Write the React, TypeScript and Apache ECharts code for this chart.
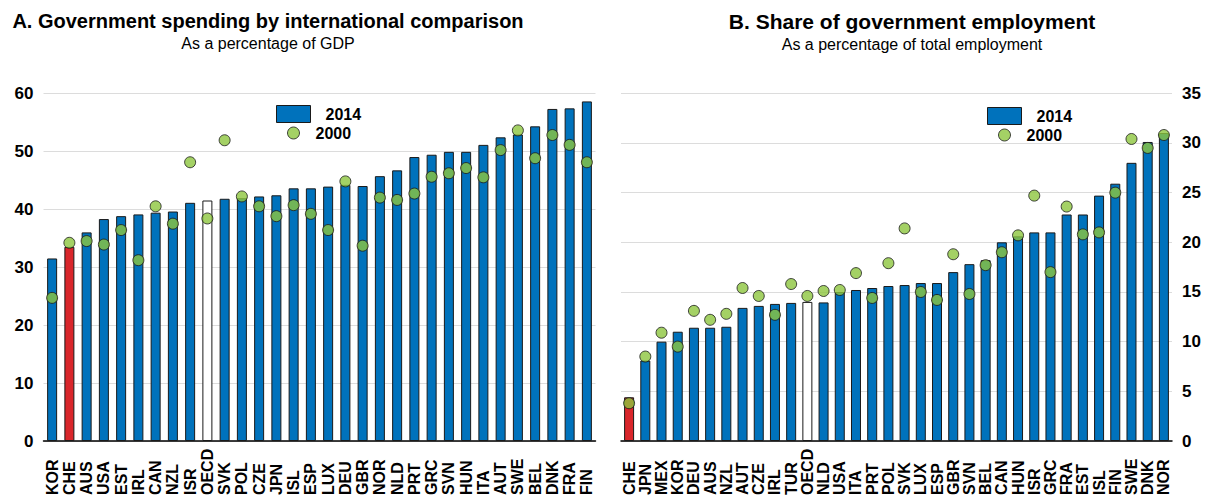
import React, { useEffect, useRef } from "react";
import * as echarts from "echarts";

const spendCountries = ["KOR","CHE","AUS","USA","EST","IRL","CAN","NZL","ISR","OECD","SVK","POL","CZE","JPN","ISL","ESP","LUX","DEU","GBR","NOR","NLD","PRT","GRC","SVN","HUN","ITA","AUT","SWE","BEL","DNK","FRA","FIN"];
const spend2014 = [31.5,33.5,36.0,38.3,38.8,39.1,39.4,39.6,41.1,41.5,41.8,41.9,42.2,42.4,43.6,43.6,43.9,44.2,44.0,45.7,46.7,49.0,49.4,49.9,49.9,51.1,52.4,52.9,54.3,57.3,57.4,58.6];
const spend2000 = [24.7,34.2,34.5,33.9,36.4,31.2,40.5,37.5,48.1,38.4,51.9,42.2,40.5,38.8,40.7,39.2,36.4,44.8,33.7,42.0,41.6,42.7,45.6,46.2,47.1,45.5,50.2,53.6,48.8,52.8,51.1,48.1];

const empCountries = ["CHE","JPN","MEX","KOR","DEU","AUS","NZL","AUT","CZE","IRL","TUR","OECD","NLD","USA","ITA","PRT","POL","SVK","LUX","ESP","GBR","SVN","BEL","CAN","HUN","ISR","GRC","FRA","EST","ISL","FIN","SWE","DNK","NOR"];
const emp2014 = [4.4,8.1,10.0,11.0,11.4,11.4,11.5,13.4,13.6,13.8,13.9,14.0,13.95,15.0,15.2,15.4,15.6,15.7,15.9,15.9,17.0,17.8,18.2,20.0,20.6,21.0,21.0,22.8,22.8,24.7,25.9,28.0,30.1,31.0];
const emp2000 = [3.8,8.5,10.9,9.5,13.1,12.2,12.8,15.4,14.6,12.7,15.8,14.6,15.1,15.2,16.9,14.4,17.9,21.4,15.0,14.2,18.8,14.8,17.7,19.0,20.7,24.7,17.0,23.6,20.8,21.0,25.0,30.4,29.5,30.8];

const spendTicks = { min: 0, max: 60, interval: 10 };
const empTicks = { min: 0, max: 35, interval: 5 };

const BLUE = "#0072BC";
const RED = "#D9262B";
const GREEN = "#8DC63F";
const EDGE = "#1a1a1a";
const FONT = "Arial, 'Liberation Sans', sans-serif";

function barData(cats: string[], vals: number[]) {
  return vals.map((v, i) => {
    if (cats[i] === "CHE") return { value: v, itemStyle: { color: RED } };
    if (cats[i] === "OECD") return { value: v, itemStyle: { color: "#ffffff" } };
    return v;
  });
}

export default function App() {
  const ref = useRef<HTMLDivElement>(null);
  useEffect(() => {
    if (!ref.current) return;
    const chart = echarts.init(ref.current, undefined, { renderer: "svg" });
    const axisLabelX = {
      rotate: 90,
      align: "left",
      verticalAlign: "middle",
      margin: 54,
      interval: 0,
      fontFamily: FONT,
      fontWeight: "bold",
      fontSize: 16,
      color: "#000",
    };
    const yLabel = { fontFamily: FONT, fontWeight: "bold", fontSize: 17, color: "#000", margin: 10 };
    const legendText = { fontFamily: FONT, fontWeight: "bold", fontSize: 16, color: "#000", padding: [0, 0, 0, 10] };
    const legendText2 = { fontFamily: FONT, fontWeight: "bold", fontSize: 16, color: "#000" };
    chart.setOption({
      animation: false,
      title: [
        {
          text: "A. Government spending by international comparison",
          subtext: "As a percentage of GDP",
          left: 268, top: 11, textAlign: "center", padding: 0, itemGap: 4,
          textStyle: { fontFamily: FONT, fontWeight: "bold", fontSize: 20, color: "#000" },
          subtextStyle: { fontFamily: FONT, fontSize: 16, color: "#000" },
        },
        {
          text: "B. Share of government employment",
          subtext: "As a percentage of total employment",
          left: 912, top: 11, textAlign: "center", padding: 0, itemGap: 4,
          textStyle: { fontFamily: FONT, fontWeight: "bold", fontSize: 21, color: "#000" },
          subtextStyle: { fontFamily: FONT, fontSize: 16, color: "#000" },
        },
      ],
      legend: [
        { data: [{ name: "2014", icon: "rect" }], left: 276, top: 105, padding: 0, itemWidth: 34, itemHeight: 17, selectedMode: false,
          itemStyle: { borderColor: EDGE, borderWidth: 1 }, textStyle: legendText },
        { data: [{ name: "2000", icon: "circle" }], left: 287, top: 125, padding: 0, itemWidth: 34, itemHeight: 12, selectedMode: false,
          itemStyle: { borderColor: EDGE, borderWidth: 1 }, textStyle: legendText2 },
        { data: [{ name: "2014", icon: "rect" }], left: 987, top: 107, padding: 0, itemWidth: 34, itemHeight: 17, selectedMode: false,
          itemStyle: { borderColor: EDGE, borderWidth: 1 }, textStyle: legendText },
        { data: [{ name: "2000", icon: "circle" }], left: 998, top: 127, padding: 0, itemWidth: 34, itemHeight: 12, selectedMode: false,
          itemStyle: { borderColor: EDGE, borderWidth: 1 }, textStyle: legendText2 },
      ],
      grid: [
        { left: 43.5, right: 610.5, top: 93.3, bottom: 50.5 },
        { left: 621, right: 34, top: 93.3, bottom: 50.5 },
      ],
      xAxis: [
        { type: "category", gridIndex: 0, data: spendCountries, axisTick: { show: false },
          axisLine: { lineStyle: { color: "#000", width: 1.5 } }, axisLabel: axisLabelX },
        { type: "category", gridIndex: 1, data: empCountries, axisTick: { show: false },
          axisLine: { lineStyle: { color: "#000", width: 1.5 } }, axisLabel: axisLabelX },
      ],
      yAxis: [
        { type: "value", gridIndex: 0, ...spendTicks, position: "left", axisLabel: yLabel,
          axisLine: { show: false }, axisTick: { show: false },
          splitLine: { lineStyle: { color: "#dcdcdc", width: 1 } } },
        { type: "value", gridIndex: 1, ...empTicks, position: "right", axisLabel: yLabel,
          axisLine: { show: false }, axisTick: { show: false },
          splitLine: { lineStyle: { color: "#dcdcdc", width: 1 } } },
      ],
      series: [
        { name: "2014", type: "bar", xAxisIndex: 0, yAxisIndex: 0, barWidth: 10,
          itemStyle: { color: BLUE, borderColor: EDGE, borderWidth: 1 }, data: barData(spendCountries, spend2014) },
        { name: "2000", type: "scatter", xAxisIndex: 0, yAxisIndex: 0, symbolSize: 11, z: 5,
          itemStyle: { color: GREEN, borderColor: EDGE, borderWidth: 1 }, data: spend2000 },
        { name: "2014", type: "bar", xAxisIndex: 1, yAxisIndex: 1, barWidth: 10,
          itemStyle: { color: BLUE, borderColor: EDGE, borderWidth: 1 }, data: barData(empCountries, emp2014) },
        { name: "2000", type: "scatter", xAxisIndex: 1, yAxisIndex: 1, symbolSize: 11, z: 5,
          itemStyle: { color: GREEN, borderColor: EDGE, borderWidth: 1 }, data: emp2000 },
      ],
    });
    return () => chart.dispose();
  }, []);
  return (
    <div
      ref={ref}
      style={{ position: "absolute", left: 0, top: 0, width: 1206, height: 498, background: "#fff" }}
    />
  );
}
